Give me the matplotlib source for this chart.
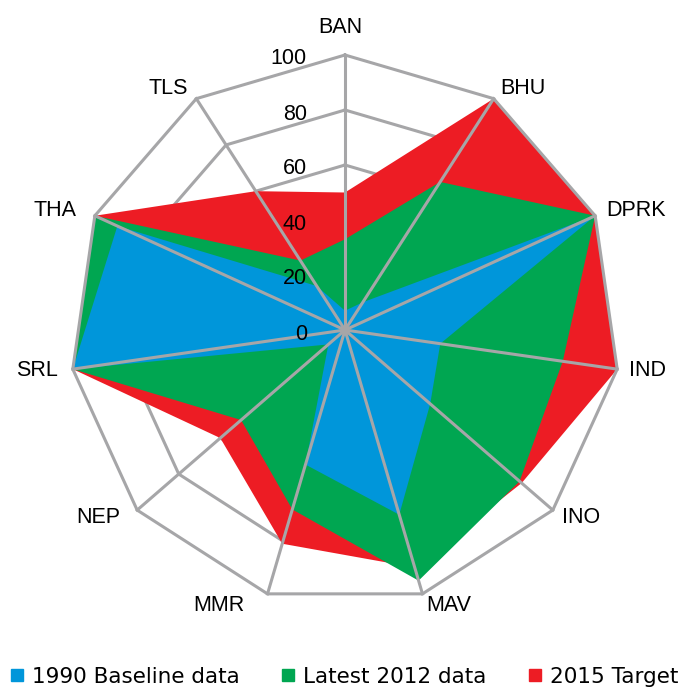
import numpy as np
import matplotlib
matplotlib.use('Agg')
import matplotlib.pyplot as plt
from matplotlib.lines import Line2D

categories = ['BAN', 'BHU', 'DPRK', 'IND', 'INO', 'MAV', 'MMR', 'NEP', 'SRL', 'THA', 'TLS']
baseline_1990 = [7, 12, 100, 35, 41, 70, 51, 8, 100, 91, 19]
latest_2012 = [33, 64, 100, 80, 84, 95, 68, 50, 100, 100, 30]
target_2015 = [50, 100, 100, 100, 85, 90, 81, 60, 100, 100, 60]
ticks = [0, 20, 40, 60, 80, 100]
series_names = ['1990 Baseline data', 'Latest 2012 data', '2015 Target']

colors = ['#0096DA', '#00A651', '#ED1C24']
grid_color = '#A6A6A8'

# extra horizontal nudges (pixels) for the category labels, as in the reference layout
label_nudge = [-5, 0, 0, 0, 0, 0, -20, -8, -3, -7, -2]

W, H = 679, 690
fig = plt.figure(figsize=(W / 100, H / 100), dpi=100)
cx, cy, R = 345, 330, 275
ax = fig.add_axes([(cx - R) / W, (H - cy - R) / H, 2 * R / W, 2 * R / H], projection='polar')
ax.set_theta_offset(np.pi / 2)
ax.set_theta_direction(-1)
ax.set_ylim(0, 100)
ax.set_axis_off()

n = len(categories)
theta = np.arange(n) * 2 * np.pi / n
closed = np.append(theta, theta[0])

# inner grid polygons (under the fills)
for t in ticks[1:-1]:
    ax.plot(closed, [t] * (n + 1), color=grid_color, lw=2.2, zorder=1, clip_on=False)

# filled series: target at back, baseline at front
for vals, c, z in [(target_2015, colors[2], 2), (latest_2012, colors[1], 3), (baseline_1990, colors[0], 4)]:
    v = np.append(vals, vals[0])
    ax.fill(closed, v, color=c, lw=0, zorder=z, clip_on=False)

# outer polygon and spokes on top
ax.plot(closed, [ticks[-1]] * (n + 1), color=grid_color, lw=2.2, zorder=6, clip_on=False,
        solid_joinstyle='miter')
for th in theta:
    ax.plot([th, th], [0, ticks[-1]], color=grid_color, lw=2.2, zorder=6, clip_on=False)

# radial tick labels
for t in ticks:
    ax.annotate(str(t), xy=(0, t), xytext=(-38, -4), textcoords='offset pixels',
                ha='right', va='center', fontsize=15.5, family='Liberation Sans', zorder=7)

# category labels
for th, lab, nud in zip(theta, categories, label_nudge):
    s, c = np.sin(th), np.cos(th)
    gap = 12
    dx, dy = gap * s, gap * c
    if s > 0.05:
        ha = 'left'
    elif s < -0.05:
        ha = 'right'
    else:
        ha = 'center'
    va = 'center'
    if c > 0.99:
        va = 'bottom'
        dy = 17
    ax.annotate(lab, xy=(th, ticks[-1]), xytext=(dx + nud, dy), textcoords='offset pixels',
                ha=ha, va=va, fontsize=15.5, family='Liberation Sans', annotation_clip=False)

handles = [Line2D([], [], marker='s', ls='', color=c, markersize=8.6) for c in colors]
fig.legend(handles, series_names, loc='center', bbox_to_anchor=(0.5 + 4 / W, 1 - 677 / H), ncol=3,
           frameon=False, prop={'family': 'DejaVu Sans', 'size': 15.5},
           handlelength=0.8, handletextpad=0.3, columnspacing=1.85, borderaxespad=0, borderpad=0)

fig.savefig('out.png', dpi=100)
